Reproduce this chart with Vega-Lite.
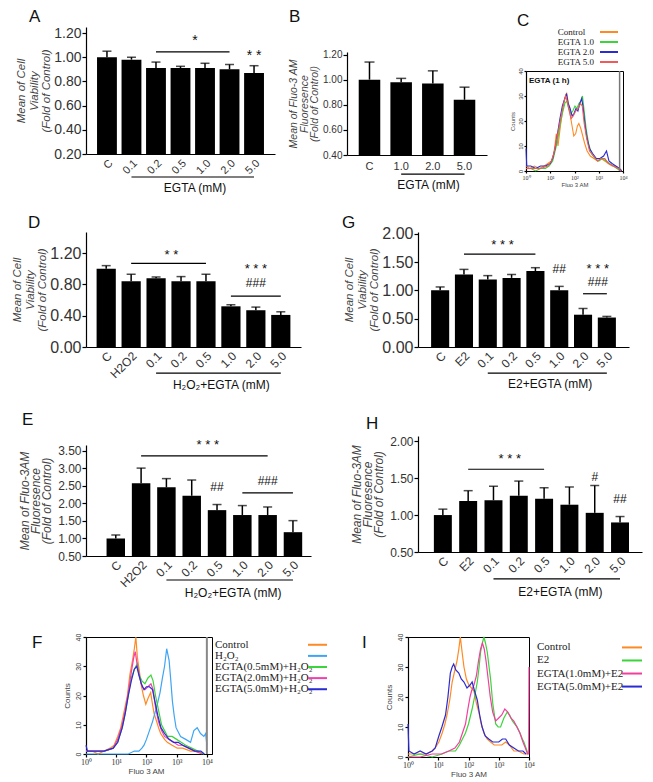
{
 "$schema": "https://vega.github.io/schema/vega-lite/v6.json",
 "padding": {"left": 11, "top": 8, "right": 0, "bottom": 0},
 "background": "white",
 "config": {
  "font": "Liberation Sans",
  "view": {"stroke": null},
  "axis": {"grid": false, "domainColor": "#000", "domainWidth": 1.2, "tickColor": "#000", "tickWidth": 1.2, "labelColor": "#333", "titleColor": "#444", "labelFont": "Liberation Sans", "titleFont": "Liberation Sans", "titleFontWeight": "normal", "labelOverlap": false, "labelFlush": false, "tickCount": 20},
  "title": {"fontSize": 17, "fontWeight": "normal", "anchor": "start", "frame": "group", "color": "#111", "font": "Liberation Sans"},
  "text": {"font": "Liberation Sans", "color": "#111"}
 },
 "datasets": {
  "histC": [
   {"s":"c","x":0,"n":2},{"s":"c","x":0.15,"n":1},{"s":"c","x":0.35,"n":2},{"s":"c","x":0.55,"n":1},{"s":"c","x":0.75,"n":2},{"s":"c","x":0.9,"n":3},{"s":"c","x":1.05,"n":4},{"s":"c","x":1.15,"n":7},{"s":"c","x":1.25,"n":15},{"s":"c","x":1.32,"n":10},{"s":"c","x":1.42,"n":18},{"s":"c","x":1.52,"n":25},{"s":"c","x":1.6,"n":29},{"s":"c","x":1.68,"n":31},{"s":"c","x":1.75,"n":27},{"s":"c","x":1.83,"n":22},{"s":"c","x":1.9,"n":18},{"s":"c","x":1.97,"n":14},{"s":"c","x":2.05,"n":15},{"s":"c","x":2.12,"n":18},{"s":"c","x":2.18,"n":19},{"s":"c","x":2.26,"n":17},{"s":"c","x":2.34,"n":14},{"s":"c","x":2.42,"n":11},{"s":"c","x":2.52,"n":8},{"s":"c","x":2.65,"n":6},{"s":"c","x":2.8,"n":5},{"s":"c","x":2.95,"n":4},{"s":"c","x":3.1,"n":5},{"s":"c","x":3.25,"n":4},{"s":"c","x":3.4,"n":3},{"s":"c","x":3.55,"n":2},{"s":"c","x":3.7,"n":2},{"s":"c","x":3.85,"n":1},{"s":"c","x":3.95,"n":0},
   {"s":"e1","x":0,"n":1},{"s":"e1","x":0.2,"n":1},{"s":"e1","x":0.4,"n":0},{"s":"e1","x":0.6,"n":1},{"s":"e1","x":0.8,"n":1},{"s":"e1","x":0.95,"n":2},{"s":"e1","x":1.1,"n":4},{"s":"e1","x":1.2,"n":8},{"s":"e1","x":1.3,"n":12},{"s":"e1","x":1.4,"n":18},{"s":"e1","x":1.5,"n":23},{"s":"e1","x":1.6,"n":27},{"s":"e1","x":1.68,"n":28},{"s":"e1","x":1.76,"n":25},{"s":"e1","x":1.85,"n":23},{"s":"e1","x":1.93,"n":24},{"s":"e1","x":2.02,"n":26},{"s":"e1","x":2.1,"n":25},{"s":"e1","x":2.18,"n":27},{"s":"e1","x":2.26,"n":28},{"s":"e1","x":2.33,"n":30},{"s":"e1","x":2.4,"n":24},{"s":"e1","x":2.48,"n":17},{"s":"e1","x":2.58,"n":11},{"s":"e1","x":2.7,"n":7},{"s":"e1","x":2.85,"n":5},{"s":"e1","x":3.0,"n":4},{"s":"e1","x":3.15,"n":5},{"s":"e1","x":3.3,"n":4},{"s":"e1","x":3.45,"n":3},{"s":"e1","x":3.6,"n":2},{"s":"e1","x":3.75,"n":1},{"s":"e1","x":3.9,"n":0},
   {"s":"e2","x":0,"n":9},{"s":"e2","x":0.03,"n":2},{"s":"e2","x":0.2,"n":2},{"s":"e2","x":0.4,"n":1},{"s":"e2","x":0.6,"n":2},{"s":"e2","x":0.8,"n":2},{"s":"e2","x":1.0,"n":3},{"s":"e2","x":1.1,"n":5},{"s":"e2","x":1.2,"n":9},{"s":"e2","x":1.3,"n":15},{"s":"e2","x":1.4,"n":21},{"s":"e2","x":1.5,"n":26},{"s":"e2","x":1.6,"n":29},{"s":"e2","x":1.67,"n":31},{"s":"e2","x":1.74,"n":27},{"s":"e2","x":1.82,"n":25},{"s":"e2","x":1.9,"n":22},{"s":"e2","x":1.98,"n":23},{"s":"e2","x":2.06,"n":25},{"s":"e2","x":2.14,"n":24},{"s":"e2","x":2.22,"n":27},{"s":"e2","x":2.3,"n":29},{"s":"e2","x":2.36,"n":25},{"s":"e2","x":2.44,"n":18},{"s":"e2","x":2.52,"n":13},{"s":"e2","x":2.62,"n":9},{"s":"e2","x":2.75,"n":7},{"s":"e2","x":2.9,"n":5},{"s":"e2","x":3.05,"n":5},{"s":"e2","x":3.2,"n":6},{"s":"e2","x":3.32,"n":8},{"s":"e2","x":3.42,"n":4},{"s":"e2","x":3.55,"n":3},{"s":"e2","x":3.7,"n":2},{"s":"e2","x":3.85,"n":1},{"s":"e2","x":3.95,"n":0},
   {"s":"e5","x":0,"n":1},{"s":"e5","x":0.3,"n":1},{"s":"e5","x":0.6,"n":1},{"s":"e5","x":0.9,"n":2},{"s":"e5","x":1.05,"n":4},{"s":"e5","x":1.15,"n":7},{"s":"e5","x":1.25,"n":12},{"s":"e5","x":1.35,"n":17},{"s":"e5","x":1.45,"n":22},{"s":"e5","x":1.55,"n":27},{"s":"e5","x":1.63,"n":30},{"s":"e5","x":1.7,"n":28},{"s":"e5","x":1.78,"n":24},{"s":"e5","x":1.86,"n":21},{"s":"e5","x":1.95,"n":22},{"s":"e5","x":2.05,"n":24},{"s":"e5","x":2.15,"n":25},{"s":"e5","x":2.25,"n":27},{"s":"e5","x":2.32,"n":26},{"s":"e5","x":2.4,"n":19},{"s":"e5","x":2.5,"n":13},{"s":"e5","x":2.62,"n":8},{"s":"e5","x":2.78,"n":6},{"s":"e5","x":2.95,"n":4},{"s":"e5","x":3.1,"n":5},{"s":"e5","x":3.25,"n":5},{"s":"e5","x":3.4,"n":3},{"s":"e5","x":3.6,"n":2},{"s":"e5","x":3.8,"n":1},{"s":"e5","x":3.92,"n":0}
  ],
  "histF": [
   {"s":"c","x":0,"n":1},{"s":"c","x":0.2,"n":1},{"s":"c","x":0.4,"n":0},{"s":"c","x":0.6,"n":1},{"s":"c","x":0.8,"n":2},{"s":"c","x":0.93,"n":3},{"s":"c","x":1.05,"n":6},{"s":"c","x":1.15,"n":9},{"s":"c","x":1.25,"n":14},{"s":"c","x":1.37,"n":20},{"s":"c","x":1.45,"n":27},{"s":"c","x":1.54,"n":32},{"s":"c","x":1.6,"n":36},{"s":"c","x":1.65,"n":40},{"s":"c","x":1.7,"n":33},{"s":"c","x":1.77,"n":28},{"s":"c","x":1.82,"n":24},{"s":"c","x":1.9,"n":20},{"s":"c","x":1.98,"n":17},{"s":"c","x":2.05,"n":19},{"s":"c","x":2.14,"n":21},{"s":"c","x":2.2,"n":17},{"s":"c","x":2.25,"n":14},{"s":"c","x":2.31,"n":12},{"s":"c","x":2.4,"n":9},{"s":"c","x":2.47,"n":7},{"s":"c","x":2.6,"n":5},{"s":"c","x":2.69,"n":4},{"s":"c","x":2.85,"n":3},{"s":"c","x":3.02,"n":2},{"s":"c","x":3.2,"n":2},{"s":"c","x":3.46,"n":1},{"s":"c","x":3.7,"n":1},{"s":"c","x":3.9,"n":0},
   {"s":"h","x":0,"n":0},{"s":"h","x":0.5,"n":0},{"s":"h","x":1.0,"n":0},{"s":"h","x":1.4,"n":0},{"s":"h","x":1.6,"n":1},{"s":"h","x":1.75,"n":1},{"s":"h","x":1.85,"n":2},{"s":"h","x":1.92,"n":3},{"s":"h","x":2.0,"n":5},{"s":"h","x":2.1,"n":8},{"s":"h","x":2.2,"n":11},{"s":"h","x":2.28,"n":14},{"s":"h","x":2.36,"n":17},{"s":"h","x":2.45,"n":21},{"s":"h","x":2.53,"n":26},{"s":"h","x":2.6,"n":30},{"s":"h","x":2.67,"n":36},{"s":"h","x":2.75,"n":32},{"s":"h","x":2.8,"n":26},{"s":"h","x":2.86,"n":18},{"s":"h","x":2.92,"n":13},{"s":"h","x":2.98,"n":9},{"s":"h","x":3.13,"n":6},{"s":"h","x":3.3,"n":5},{"s":"h","x":3.46,"n":4},{"s":"h","x":3.57,"n":8},{"s":"h","x":3.68,"n":9},{"s":"h","x":3.79,"n":7},{"s":"h","x":3.9,"n":6},{"s":"h","x":3.96,"n":7},{"s":"h","x":4.0,"n":3},
   {"s":"e05","x":0,"n":1},{"s":"e05","x":0.3,"n":1},{"s":"e05","x":0.6,"n":1},{"s":"e05","x":0.9,"n":2},{"s":"e05","x":1.05,"n":4},{"s":"e05","x":1.2,"n":9},{"s":"e05","x":1.3,"n":14},{"s":"e05","x":1.4,"n":20},{"s":"e05","x":1.5,"n":26},{"s":"e05","x":1.6,"n":29},{"s":"e05","x":1.7,"n":31},{"s":"e05","x":1.76,"n":27},{"s":"e05","x":1.85,"n":25},{"s":"e05","x":1.95,"n":24},{"s":"e05","x":2.05,"n":26},{"s":"e05","x":2.15,"n":27},{"s":"e05","x":2.22,"n":25},{"s":"e05","x":2.3,"n":20},{"s":"e05","x":2.4,"n":15},{"s":"e05","x":2.5,"n":10},{"s":"e05","x":2.6,"n":8},{"s":"e05","x":2.7,"n":6},{"s":"e05","x":2.85,"n":6},{"s":"e05","x":3.0,"n":5},{"s":"e05","x":3.15,"n":4},{"s":"e05","x":3.3,"n":3},{"s":"e05","x":3.5,"n":2},{"s":"e05","x":3.7,"n":1},{"s":"e05","x":3.9,"n":0},
   {"s":"e20","x":0,"n":1},{"s":"e20","x":0.3,"n":1},{"s":"e20","x":0.6,"n":1},{"s":"e20","x":0.9,"n":2},{"s":"e20","x":1.05,"n":5},{"s":"e20","x":1.2,"n":10},{"s":"e20","x":1.3,"n":15},{"s":"e20","x":1.4,"n":21},{"s":"e20","x":1.5,"n":28},{"s":"e20","x":1.58,"n":33},{"s":"e20","x":1.63,"n":35},{"s":"e20","x":1.7,"n":30},{"s":"e20","x":1.78,"n":26},{"s":"e20","x":1.86,"n":23},{"s":"e20","x":1.95,"n":22},{"s":"e20","x":2.05,"n":23},{"s":"e20","x":2.15,"n":24},{"s":"e20","x":2.22,"n":22},{"s":"e20","x":2.3,"n":16},{"s":"e20","x":2.4,"n":11},{"s":"e20","x":2.5,"n":8},{"s":"e20","x":2.6,"n":6},{"s":"e20","x":2.75,"n":5},{"s":"e20","x":2.9,"n":4},{"s":"e20","x":3.05,"n":3},{"s":"e20","x":3.2,"n":3},{"s":"e20","x":3.4,"n":2},{"s":"e20","x":3.6,"n":1},{"s":"e20","x":3.85,"n":0},
   {"s":"e50","x":0,"n":3},{"s":"e50","x":0.05,"n":1},{"s":"e50","x":0.3,"n":1},{"s":"e50","x":0.6,"n":1},{"s":"e50","x":0.9,"n":2},{"s":"e50","x":1.05,"n":4},{"s":"e50","x":1.2,"n":9},{"s":"e50","x":1.3,"n":14},{"s":"e50","x":1.4,"n":20},{"s":"e50","x":1.5,"n":25},{"s":"e50","x":1.6,"n":29},{"s":"e50","x":1.68,"n":30},{"s":"e50","x":1.75,"n":27},{"s":"e50","x":1.83,"n":24},{"s":"e50","x":1.92,"n":22},{"s":"e50","x":2.0,"n":23},{"s":"e50","x":2.1,"n":23},{"s":"e50","x":2.2,"n":22},{"s":"e50","x":2.28,"n":18},{"s":"e50","x":2.38,"n":13},{"s":"e50","x":2.48,"n":9},{"s":"e50","x":2.6,"n":7},{"s":"e50","x":2.75,"n":5},{"s":"e50","x":2.9,"n":4},{"s":"e50","x":3.05,"n":4},{"s":"e50","x":3.2,"n":3},{"s":"e50","x":3.4,"n":2},{"s":"e50","x":3.6,"n":1},{"s":"e50","x":3.8,"n":1},{"s":"e50","x":3.92,"n":0}
  ],
  "histI": [
   {"s":"c","x":0,"n":1},{"s":"c","x":0.3,"n":1},{"s":"c","x":0.6,"n":1},{"s":"c","x":0.8,"n":2},{"s":"c","x":0.9,"n":3},{"s":"c","x":1.02,"n":5},{"s":"c","x":1.13,"n":8},{"s":"c","x":1.22,"n":11},{"s":"c","x":1.29,"n":14},{"s":"c","x":1.38,"n":19},{"s":"c","x":1.46,"n":25},{"s":"c","x":1.55,"n":29},{"s":"c","x":1.62,"n":32},{"s":"c","x":1.68,"n":36},{"s":"c","x":1.73,"n":40},{"s":"c","x":1.8,"n":34},{"s":"c","x":1.85,"n":30},{"s":"c","x":1.93,"n":26},{"s":"c","x":2.01,"n":24},{"s":"c","x":2.1,"n":23},{"s":"c","x":2.18,"n":22},{"s":"c","x":2.26,"n":18},{"s":"c","x":2.34,"n":15},{"s":"c","x":2.42,"n":11},{"s":"c","x":2.51,"n":8},{"s":"c","x":2.62,"n":6},{"s":"c","x":2.73,"n":5},{"s":"c","x":2.85,"n":4},{"s":"c","x":2.95,"n":4},{"s":"c","x":3.1,"n":4},{"s":"c","x":3.23,"n":5},{"s":"c","x":3.35,"n":4},{"s":"c","x":3.5,"n":2},{"s":"c","x":3.65,"n":2},{"s":"c","x":3.83,"n":1},{"s":"c","x":3.95,"n":1},
   {"s":"e2","x":0,"n":0},{"s":"e2","x":0.4,"n":1},{"s":"e2","x":0.8,"n":0},{"s":"e2","x":1.13,"n":1},{"s":"e2","x":1.35,"n":2},{"s":"e2","x":1.57,"n":2},{"s":"e2","x":1.7,"n":4},{"s":"e2","x":1.8,"n":6},{"s":"e2","x":1.9,"n":8},{"s":"e2","x":2.0,"n":11},{"s":"e2","x":2.12,"n":16},{"s":"e2","x":2.2,"n":20},{"s":"e2","x":2.29,"n":25},{"s":"e2","x":2.35,"n":30},{"s":"e2","x":2.4,"n":35},{"s":"e2","x":2.46,"n":38},{"s":"e2","x":2.51,"n":40},{"s":"e2","x":2.56,"n":38},{"s":"e2","x":2.62,"n":35},{"s":"e2","x":2.68,"n":30},{"s":"e2","x":2.73,"n":26},{"s":"e2","x":2.8,"n":18},{"s":"e2","x":2.9,"n":11},{"s":"e2","x":2.98,"n":10},{"s":"e2","x":3.06,"n":10},{"s":"e2","x":3.17,"n":13},{"s":"e2","x":3.28,"n":15},{"s":"e2","x":3.36,"n":14},{"s":"e2","x":3.45,"n":12},{"s":"e2","x":3.53,"n":11},{"s":"e2","x":3.61,"n":10},{"s":"e2","x":3.7,"n":8},{"s":"e2","x":3.78,"n":6},{"s":"e2","x":3.83,"n":5},{"s":"e2","x":3.9,"n":3},{"s":"e2","x":3.97,"n":1},
   {"s":"g1","x":0,"n":0},{"s":"g1","x":0.4,"n":0},{"s":"g1","x":0.8,"n":1},{"s":"g1","x":1.1,"n":1},{"s":"g1","x":1.35,"n":2},{"s":"g1","x":1.55,"n":3},{"s":"g1","x":1.7,"n":5},{"s":"g1","x":1.8,"n":8},{"s":"g1","x":1.9,"n":11},{"s":"g1","x":1.98,"n":16},{"s":"g1","x":2.05,"n":20},{"s":"g1","x":2.1,"n":22},{"s":"g1","x":2.18,"n":24},{"s":"g1","x":2.26,"n":27},{"s":"g1","x":2.33,"n":32},{"s":"g1","x":2.4,"n":36},{"s":"g1","x":2.46,"n":38},{"s":"g1","x":2.52,"n":36},{"s":"g1","x":2.58,"n":32},{"s":"g1","x":2.65,"n":26},{"s":"g1","x":2.72,"n":20},{"s":"g1","x":2.8,"n":15},{"s":"g1","x":2.9,"n":12},{"s":"g1","x":3.0,"n":13},{"s":"g1","x":3.1,"n":14},{"s":"g1","x":3.2,"n":16},{"s":"g1","x":3.3,"n":15},{"s":"g1","x":3.4,"n":13},{"s":"g1","x":3.5,"n":12},{"s":"g1","x":3.6,"n":10},{"s":"g1","x":3.7,"n":8},{"s":"g1","x":3.8,"n":5},{"s":"g1","x":3.88,"n":3},{"s":"g1","x":3.95,"n":1},{"s":"g1","x":3.99,"n":1},{"s":"g1","x":4.0,"n":30},
   {"s":"g5","x":0,"n":11},{"s":"g5","x":0.03,"n":2},{"s":"g5","x":0.2,"n":1},{"s":"g5","x":0.4,"n":2},{"s":"g5","x":0.6,"n":1},{"s":"g5","x":0.8,"n":2},{"s":"g5","x":0.9,"n":3},{"s":"g5","x":1.02,"n":7},{"s":"g5","x":1.12,"n":10},{"s":"g5","x":1.24,"n":14},{"s":"g5","x":1.32,"n":20},{"s":"g5","x":1.4,"n":28},{"s":"g5","x":1.46,"n":30},{"s":"g5","x":1.51,"n":31},{"s":"g5","x":1.58,"n":29},{"s":"g5","x":1.68,"n":28},{"s":"g5","x":1.76,"n":26},{"s":"g5","x":1.85,"n":25},{"s":"g5","x":1.95,"n":23},{"s":"g5","x":2.05,"n":24},{"s":"g5","x":2.12,"n":25},{"s":"g5","x":2.2,"n":22},{"s":"g5","x":2.29,"n":19},{"s":"g5","x":2.37,"n":14},{"s":"g5","x":2.45,"n":10},{"s":"g5","x":2.55,"n":7},{"s":"g5","x":2.67,"n":6},{"s":"g5","x":2.8,"n":5},{"s":"g5","x":2.9,"n":5},{"s":"g5","x":3.0,"n":5},{"s":"g5","x":3.12,"n":6},{"s":"g5","x":3.23,"n":6},{"s":"g5","x":3.35,"n":4},{"s":"g5","x":3.5,"n":3},{"s":"g5","x":3.65,"n":2},{"s":"g5","x":3.8,"n":2},{"s":"g5","x":3.9,"n":1}
  ]
 },
 "resolve": {"scale": {"color": "independent"}},
 "align": "none",
 "spacing": 19,
 "vconcat": [
  {
   "spacing": 19,
   "align": "none",
   "resolve": {"scale": {"color": "independent"}},
   "vconcat": [
    {
     "spacing": 21,
     "align": "none",
     "resolve": {"scale": {"color": "independent"}},
     "hconcat": [
      {
       "spacing": 13,
       "align": "none",
       "hconcat": [
        {
         "width": 189, "height": 127,
         "title": {"text": "A", "dx": -57, "offset": 0},
         "layer": [
          {
           "data": {"values": [
            {"cat": "C", "mean": 1.0, "hi": 1.05},
            {"cat": "0.1", "mean": 0.98, "hi": 1.0},
            {"cat": "0.2", "mean": 0.91, "hi": 0.96},
            {"cat": "0.5", "mean": 0.91, "hi": 0.925},
            {"cat": "1.0", "mean": 0.91, "hi": 0.95},
            {"cat": "2.0", "mean": 0.9, "hi": 0.94},
            {"cat": "5.0", "mean": 0.87, "hi": 0.93}
           ]},
           "encoding": {
            "x": {"field": "cat", "type": "nominal", "sort": null, "scale": {"domain": ["C","0.1","0.2","0.5","1.0","2.0","5.0"], "paddingInner": 0.19, "paddingOuter": 0.45}, "axis": {"title": null, "labelAngle": -45, "labelFontSize": 11, "ticks": false, "labelPadding": 3, "labelOverlap": false}},
            "y": {"field": "mean", "type": "quantitative", "scale": {"domain": [0.2, 1.25], "nice": false, "zero": false}, "axis": {"values": [0.2,0.4,0.6,0.8,1.0,1.2], "tickCount": 20, "format": ".2f", "labelOverlap": false, "labelFontSize": 14, "tickSize": 4, "labelPadding": 1, "title": ["Mean of Cell","Viability","(Fold of Control)"], "titleFontSize": 11.5, "titleLineHeight": 12.5, "titlePadding": 2, "titleFontStyle": "italic"}}
           },
           "layer": [
            {"mark": {"type": "bar", "color": "#000"}, "encoding": {"y2": {"datum": 0.2}}},
            {"mark": {"type": "rule", "color": "#000", "strokeWidth": 1.5}, "encoding": {"y2": {"field": "hi"}}},
            {"mark": {"type": "tick", "orient": "horizontal", "color": "#000", "size": 9, "thickness": 1.5}, "encoding": {"y": {"field": "hi", "type": "quantitative"}}}
           ]
          },
          {"data": {"values": [{}]}, "mark": {"type": "rule", "color": "#000", "strokeWidth": 1.2}, "encoding": {"x": {"datum": "0.2"}, "x2": {"datum": "2.0"}, "y": {"datum": 1.045}}},
          {"data": {"values": [{}]}, "mark": {"type": "text", "fontSize": 14}, "encoding": {"x": {"datum": "1.0", "bandPosition": 0}, "y": {"datum": 1.135}, "text": {"value": "*"}}},
          {"data": {"values": [{}]}, "mark": {"type": "text", "fontSize": 14}, "encoding": {"x": {"datum": "5.0"}, "y": {"datum": 1.01}, "text": {"value": "* *"}}},
          {"data": {"values": [{}]}, "mark": {"type": "rule", "color": "#000", "strokeWidth": 1.2}, "encoding": {"x": {"datum": "0.1"}, "x2": {"datum": "5.0"}, "y": {"datum": 0.01}}},
          {"data": {"values": [{}]}, "mark": {"type": "text", "fontSize": 12}, "encoding": {"x": {"datum": "1.0", "bandPosition": 0}, "y": {"datum": -0.08}, "text": {"value": "EGTA (mM)"}}}
         ]
        },
        {
         "spacing": 2,
         "align": "none",
         "vconcat": [
          {"width": 1, "height": 20, "title": {"text": "B", "dx": -58, "offset": 1}, "data": {"values": []}, "mark": "point"},
          {
           "width": 140, "height": 103,
           "layer": [
            {
             "data": {"values": [
              {"cat": "C", "mean": 1.0, "hi": 1.14},
              {"cat": "1.0", "mean": 0.98, "hi": 1.01},
              {"cat": "2.0", "mean": 0.97, "hi": 1.07},
              {"cat": "5.0", "mean": 0.84, "hi": 0.94}
             ]},
             "encoding": {
              "x": {"field": "cat", "type": "nominal", "sort": null, "scale": {"domain": ["C","1.0","2.0","5.0"], "paddingInner": 0.32, "paddingOuter": 0.37}, "axis": {"title": null, "labelAngle": 0, "labelFontSize": 11, "ticks": false, "labelPadding": 5, "labelOverlap": false}},
              "y": {"field": "mean", "type": "quantitative", "scale": {"domain": [0.4, 1.22], "nice": false, "zero": false}, "axis": {"values": [0.4,0.6,0.8,1.0,1.2], "tickCount": 20, "format": ".2f", "labelOverlap": false, "labelFontSize": 10, "tickSize": 4, "labelPadding": 1, "title": ["Mean of Fluo-3 AM","Fluoresence","(Fold of Control)"], "titleFontSize": 10.5, "titleLineHeight": 10.5, "titlePadding": 3, "titleFontStyle": "italic"}}
             },
             "layer": [
              {"mark": {"type": "bar", "color": "#000"}, "encoding": {"y2": {"datum": 0.4}}},
              {"mark": {"type": "rule", "color": "#000", "strokeWidth": 1.5}, "encoding": {"y2": {"field": "hi"}}},
              {"mark": {"type": "tick", "orient": "horizontal", "color": "#000", "size": 10, "thickness": 1.5}, "encoding": {"y": {"field": "hi", "type": "quantitative"}}}
             ]
            },
            {"data": {"values": [{}]}, "mark": {"type": "rule", "color": "#000", "strokeWidth": 1.2}, "encoding": {"x": {"datum": "1.0"}, "x2": {"datum": "5.0"}, "y": {"datum": 0.248}}},
            {"data": {"values": [{}]}, "mark": {"type": "text", "fontSize": 12}, "encoding": {"x": {"datum": "2.0", "bandPosition": 0.3}, "y": {"datum": 0.16}, "text": {"value": "EGTA (mM)"}}}
           ]
          }
         ]
        }
       ]
      },
      {
       "spacing": 0,
       "align": "none",
       "vconcat": [
        {
         "width": 92, "height": 40,
         "title": {"text": "C", "dx": -9, "offset": 0, "dy": 3},
         "data": {"values": [{"s": "c", "lab": "Control"}, {"s": "e1", "lab": "EGTA 1.0"}, {"s": "e2", "lab": "EGTA 2.0"}, {"s": "e5", "lab": "EGTA 5.0"}]},
         "encoding": {"y": {"field": "lab", "type": "nominal", "sort": null, "scale": {"type": "band", "domain": ["Control","EGTA 1.0","EGTA 2.0","EGTA 5.0"], "paddingInner": 0, "paddingOuter": 0}, "axis": null}},
         "layer": [
          {"mark": {"type": "text", "align": "left", "font": "Liberation Serif", "fontSize": 9, "color": "#222"}, "encoding": {"x": {"datum": 31.7, "type": "quantitative", "scale": {"domain": [0, 92], "nice": false, "zero": false}, "axis": null}, "text": {"field": "lab"}}},
          {"mark": {"type": "rule", "strokeWidth": 2}, "encoding": {"x": {"datum": 74}, "x2": {"datum": 92}, "color": {"field": "s", "type": "nominal", "scale": {"domain": ["c","e1","e2","e5"], "range": ["#ff8a24","#3bd43b","#2b2bd4","#f05a5a"]}, "legend": null}}}
         ]
        },
        {
         "width": 97, "height": 100,
         "view": {"stroke": "#000", "strokeWidth": 1},
         "layer": [
          {
           "data": {"name": "histC"},
           "mark": {"type": "line", "strokeWidth": 1.1},
           "encoding": {
            "x": {"field": "x", "type": "quantitative", "scale": {"domain": [0, 4], "nice": false}, "axis": {"values": [0,1,2,3,4], "tickCount": 20, "labelExpr": "['10⁰','10¹','10²','10³','10⁴'][datum.value]", "labelFont": "Liberation Serif", "labelFontSize": 6, "tickSize": 2, "labelPadding": 1, "title": "Fluo 3 AM", "titleFontSize": 6, "titlePadding": 1, "titleFontStyle": "normal"}},
            "y": {"field": "n", "type": "quantitative", "scale": {"domain": [0, 40], "nice": false}, "axis": {"values": [0,10,20,30,40], "tickCount": 20, "labelAngle": -90, "labelFontSize": 6, "tickSize": 2, "labelPadding": 1, "title": "Counts", "titleFontSize": 6, "titlePadding": 2, "titleFontStyle": "normal"}},
            "color": {"field": "s", "type": "nominal", "scale": {"domain": ["c","e1","e2","e5"], "range": ["#ff8a24","#3bd43b","#2b2bd4","#f05a5a"]}, "legend": null}
           }
          },
          {"data": {"values": [{}]}, "mark": {"type": "rule", "color": "#777", "strokeWidth": 1.5}, "encoding": {"x": {"datum": 3.86}}},
          {"data": {"values": [{}]}, "mark": {"type": "text", "fontSize": 8, "fontWeight": "bold", "align": "left"}, "encoding": {"x": {"datum": 0.12}, "y": {"datum": 36}, "text": {"value": "EGTA (1 h)"}}}
         ]
        }
       ]
      }
     ]
    },
    {
     "spacing": 41,
     "align": "none",
     "hconcat": [
      {
       "width": 215, "height": 115,
       "title": {"text": "D", "dx": -58, "offset": 0},
       "layer": [
        {
         "data": {"values": [
          {"cat": "C", "mean": 1.0, "hi": 1.04},
          {"cat": "H2O2", "mean": 0.84, "hi": 0.93},
          {"cat": "0.1", "mean": 0.88, "hi": 0.895},
          {"cat": "0.2", "mean": 0.84, "hi": 0.9},
          {"cat": "0.5", "mean": 0.84, "hi": 0.93},
          {"cat": "1.0", "mean": 0.52, "hi": 0.54},
          {"cat": "2.0", "mean": 0.47, "hi": 0.51},
          {"cat": "5.0", "mean": 0.41, "hi": 0.45}
         ]},
         "encoding": {
          "x": {"field": "cat", "type": "nominal", "sort": null, "scale": {"domain": ["C","H2O2","0.1","0.2","0.5","1.0","2.0","5.0"], "paddingInner": 0.23, "paddingOuter": 0.425}, "axis": {"title": null, "labelAngle": -45, "labelFontSize": 12, "ticks": false, "labelPadding": 3, "labelOverlap": false}},
          "y": {"field": "mean", "type": "quantitative", "scale": {"domain": [0, 1.47], "nice": false}, "axis": {"values": [0,0.4,0.8,1.2], "tickCount": 20, "format": ".2f", "labelOverlap": false, "labelFontSize": 16, "tickSize": 4, "labelPadding": 1, "title": ["Mean of Cell","Viability","(Fold of Control)"], "titleFontSize": 11.5, "titleLineHeight": 12.5, "titlePadding": 2, "titleFontStyle": "italic"}}
         },
         "layer": [
          {"mark": {"type": "bar", "color": "#000"}, "encoding": {"y2": {"datum": 0}}},
          {"mark": {"type": "rule", "color": "#000", "strokeWidth": 1.5}, "encoding": {"y2": {"field": "hi"}}},
          {"mark": {"type": "tick", "orient": "horizontal", "color": "#000", "size": 9, "thickness": 1.5}, "encoding": {"y": {"field": "hi", "type": "quantitative"}}}
         ]
        },
        {"data": {"values": [{}]}, "mark": {"type": "rule", "color": "#000", "strokeWidth": 1.2}, "encoding": {"x": {"datum": "H2O2"}, "x2": {"datum": "0.5"}, "y": {"datum": 1.07}}},
        {"data": {"values": [{}]}, "mark": {"type": "text", "fontSize": 13}, "encoding": {"x": {"datum": "0.2", "bandPosition": 0}, "y": {"datum": 1.18}, "text": {"value": "* *"}}},
        {"data": {"values": [{}]}, "mark": {"type": "rule", "color": "#000", "strokeWidth": 1.2}, "encoding": {"x": {"datum": "1.0"}, "x2": {"datum": "5.0"}, "y": {"datum": 0.65}}},
        {"data": {"values": [{}]}, "mark": {"type": "text", "fontSize": 13}, "encoding": {"x": {"datum": "2.0"}, "y": {"datum": 1.0}, "text": {"value": "* * *"}}},
        {"data": {"values": [{}]}, "mark": {"type": "text", "fontSize": 12}, "encoding": {"x": {"datum": "2.0"}, "y": {"datum": 0.82}, "text": {"value": "###"}}},
        {"data": {"values": [{}]}, "mark": {"type": "rule", "color": "#000", "strokeWidth": 1.2}, "encoding": {"x": {"datum": "0.1"}, "x2": {"datum": "5.0"}, "y": {"datum": -0.334}}},
        {"data": {"values": [{}]}, "mark": {"type": "text", "fontSize": 12}, "encoding": {"x": {"datum": "1.0", "bandPosition": 0}, "y": {"datum": -0.49}, "text": {"value": "H₂O₂+EGTA (mM)"}}}
       ]
      },
      {
       "width": 211, "height": 115,
       "title": {"text": "G", "dx": -76, "offset": 0, "dy": 6},
       "layer": [
        {
         "data": {"values": [
          {"cat": "C", "mean": 1.0, "hi": 1.06},
          {"cat": "E2", "mean": 1.28, "hi": 1.37},
          {"cat": "0.1", "mean": 1.19, "hi": 1.26},
          {"cat": "0.2", "mean": 1.22, "hi": 1.28},
          {"cat": "0.5", "mean": 1.34, "hi": 1.4},
          {"cat": "1.0", "mean": 1.0, "hi": 1.07},
          {"cat": "2.0", "mean": 0.57, "hi": 0.68},
          {"cat": "5.0", "mean": 0.52, "hi": 0.54}
         ]},
         "encoding": {
          "x": {"field": "cat", "type": "nominal", "sort": null, "scale": {"domain": ["C","E2","0.1","0.2","0.5","1.0","2.0","5.0"], "paddingInner": 0.24, "paddingOuter": 0.55}, "axis": {"title": null, "labelAngle": -45, "labelFontSize": 12, "ticks": false, "labelPadding": 3, "labelOverlap": false}},
          "y": {"field": "mean", "type": "quantitative", "scale": {"domain": [0, 2.03], "nice": false}, "axis": {"values": [0,0.5,1,1.5,2], "tickCount": 20, "format": ".2f", "labelOverlap": false, "labelFontSize": 16, "tickSize": 4, "labelPadding": 1, "title": ["Mean of Cell","Viability","(Fold of Control)"], "titleFontSize": 11.5, "titleLineHeight": 12.5, "titlePadding": 2, "titleFontStyle": "italic"}}
         },
         "layer": [
          {"mark": {"type": "bar", "color": "#000"}, "encoding": {"y2": {"datum": 0}}},
          {"mark": {"type": "rule", "color": "#000", "strokeWidth": 1.5}, "encoding": {"y2": {"field": "hi"}}},
          {"mark": {"type": "tick", "orient": "horizontal", "color": "#000", "size": 9, "thickness": 1.5}, "encoding": {"y": {"field": "hi", "type": "quantitative"}}}
         ]
        },
        {"data": {"values": [{}]}, "mark": {"type": "rule", "color": "#000", "strokeWidth": 1.2}, "encoding": {"x": {"datum": "E2"}, "x2": {"datum": "0.5"}, "y": {"datum": 1.64}}},
        {"data": {"values": [{}]}, "mark": {"type": "text", "fontSize": 13}, "encoding": {"x": {"datum": "0.2", "bandPosition": 0}, "y": {"datum": 1.8}, "text": {"value": "* * *"}}},
        {"data": {"values": [{}]}, "mark": {"type": "text", "fontSize": 12}, "encoding": {"x": {"datum": "1.0"}, "y": {"datum": 1.38}, "text": {"value": "##"}}},
        {"data": {"values": [{}]}, "mark": {"type": "text", "fontSize": 13}, "encoding": {"x": {"datum": "5.0", "bandPosition": 0}, "y": {"datum": 1.38}, "text": {"value": "* * *"}}},
        {"data": {"values": [{}]}, "mark": {"type": "text", "fontSize": 12}, "encoding": {"x": {"datum": "5.0", "bandPosition": 0}, "y": {"datum": 1.15}, "text": {"value": "###"}}},
        {"data": {"values": [{}]}, "mark": {"type": "rule", "color": "#000", "strokeWidth": 1.2}, "encoding": {"x": {"datum": "2.0"}, "x2": {"datum": "5.0"}, "y": {"datum": 0.94}}},
        {"data": {"values": [{}]}, "mark": {"type": "rule", "color": "#000", "strokeWidth": 1.2}, "encoding": {"x": {"datum": "0.1"}, "x2": {"datum": "5.0"}, "y": {"datum": -0.46}}},
        {"data": {"values": [{}]}, "mark": {"type": "text", "fontSize": 12}, "encoding": {"x": {"datum": "1.0", "bandPosition": 0}, "y": {"datum": -0.655}, "text": {"value": "E2+EGTA (mM)"}}}
       ]
      }
     ]
    }
   ]
  },
  {
   "spacing": 32,
   "align": "none",
   "resolve": {"scale": {"color": "independent"}},
   "vconcat": [
    {
     "spacing": 39,
     "align": "none",
     "hconcat": [
      {
       "spacing": 2,
       "align": "none",
       "vconcat": [
        {"width": 1, "height": 1, "title": {"text": "E", "dx": -64, "offset": 7}, "data": {"values": []}, "mark": "point"},
        {
         "width": 225, "height": 111,
         "layer": [
          {
           "data": {"values": [
            {"cat": "C", "mean": 1.0, "hi": 1.1},
            {"cat": "H2O2", "mean": 2.58, "hi": 3.01},
            {"cat": "0.1", "mean": 2.46, "hi": 2.71},
            {"cat": "0.2", "mean": 2.22, "hi": 2.67},
            {"cat": "0.5", "mean": 1.81, "hi": 1.97},
            {"cat": "1.0", "mean": 1.67, "hi": 1.94},
            {"cat": "2.0", "mean": 1.67, "hi": 1.9},
            {"cat": "5.0", "mean": 1.18, "hi": 1.51}
           ]},
           "encoding": {
            "x": {"field": "cat", "type": "nominal", "sort": null, "scale": {"domain": ["C","H2O2","0.1","0.2","0.5","1.0","2.0","5.0"], "paddingInner": 0.27, "paddingOuter": 0.58, "align": 0.7}, "axis": {"title": null, "labelAngle": -45, "labelFontSize": 12, "ticks": false, "labelPadding": 3, "labelOverlap": false}},
            "y": {"field": "mean", "type": "quantitative", "scale": {"domain": [0.5, 3.67], "nice": false, "zero": false}, "axis": {"values": [0.5,1,1.5,2,2.5,3,3.5], "tickCount": 20, "format": ".2f", "labelOverlap": false, "labelFontSize": 12, "tickSize": 4, "labelPadding": 1, "title": ["Mean of Fluo-3AM","Fluoresence","(Fold of Control)"], "titleFontSize": 12, "titleLineHeight": 11, "titlePadding": 4, "titleFontStyle": "italic"}}
           },
           "layer": [
            {"mark": {"type": "bar", "color": "#000"}, "encoding": {"y2": {"datum": 0.5}}},
            {"mark": {"type": "rule", "color": "#000", "strokeWidth": 1.5}, "encoding": {"y2": {"field": "hi"}}},
            {"mark": {"type": "tick", "orient": "horizontal", "color": "#000", "size": 9, "thickness": 1.5}, "encoding": {"y": {"field": "hi", "type": "quantitative"}}}
           ]
          },
          {"data": {"values": [{}]}, "mark": {"type": "text", "fontSize": 13}, "encoding": {"x": {"datum": "0.5", "bandPosition": 0}, "y": {"datum": 3.67}, "text": {"value": "* * *"}}},
          {"data": {"values": [{}]}, "mark": {"type": "rule", "color": "#000", "strokeWidth": 1.2}, "encoding": {"x": {"datum": "H2O2"}, "x2": {"datum": "2.0"}, "y": {"datum": 3.36}}},
          {"data": {"values": [{}]}, "mark": {"type": "text", "fontSize": 12}, "encoding": {"x": {"datum": "0.5"}, "y": {"datum": 2.47}, "text": {"value": "##"}}},
          {"data": {"values": [{}]}, "mark": {"type": "text", "fontSize": 12}, "encoding": {"x": {"datum": "2.0"}, "y": {"datum": 2.64}, "text": {"value": "###"}}},
          {"data": {"values": [{}]}, "mark": {"type": "rule", "color": "#000", "strokeWidth": 1.2}, "encoding": {"x": {"datum": "1.0"}, "x2": {"datum": "5.0"}, "y": {"datum": 2.3}}},
          {"data": {"values": [{}]}, "mark": {"type": "rule", "color": "#000", "strokeWidth": 1.2}, "encoding": {"x": {"datum": "0.1"}, "x2": {"datum": "5.0"}, "y": {"datum": -0.186}}},
          {"data": {"values": [{}]}, "mark": {"type": "text", "fontSize": 12}, "encoding": {"x": {"datum": "1.0", "bandPosition": 0}, "y": {"datum": -0.557}, "text": {"value": "H₂O₂+EGTA (mM)"}}}
         ]
        }
       ]
      },
      {
       "width": 224, "height": 116,
       "title": {"text": "H", "dx": -52, "offset": 2},
       "layer": [
        {
         "data": {"values": [
          {"cat": "C", "mean": 1.0, "hi": 1.08},
          {"cat": "E2", "mean": 1.19, "hi": 1.33},
          {"cat": "0.1", "mean": 1.2, "hi": 1.39},
          {"cat": "0.2", "mean": 1.26, "hi": 1.46},
          {"cat": "0.5", "mean": 1.22, "hi": 1.37},
          {"cat": "1.0", "mean": 1.14, "hi": 1.38},
          {"cat": "2.0", "mean": 1.03, "hi": 1.4},
          {"cat": "5.0", "mean": 0.9, "hi": 0.98}
         ]},
         "encoding": {
          "x": {"field": "cat", "type": "nominal", "sort": null, "scale": {"domain": ["C","E2","0.1","0.2","0.5","1.0","2.0","5.0"], "paddingInner": 0.29, "paddingOuter": 0.57, "align": 0.55}, "axis": {"title": null, "labelAngle": -45, "labelFontSize": 12, "ticks": false, "labelPadding": 3, "labelOverlap": false}},
          "y": {"field": "mean", "type": "quantitative", "scale": {"domain": [0.5, 2.07], "nice": false, "zero": false}, "axis": {"values": [0.5,1,1.5,2], "tickCount": 20, "format": ".2f", "labelOverlap": false, "labelFontSize": 12, "tickSize": 4, "labelPadding": 1, "title": ["Mean of Fluo-3AM","Fluoresence","(Fold of Control)"], "titleFontSize": 12, "titleLineHeight": 11, "titlePadding": 4, "titleFontStyle": "italic"}}
         },
         "layer": [
          {"mark": {"type": "bar", "color": "#000"}, "encoding": {"y2": {"datum": 0.5}}},
          {"mark": {"type": "rule", "color": "#000", "strokeWidth": 1.5}, "encoding": {"y2": {"field": "hi"}}},
          {"mark": {"type": "tick", "orient": "horizontal", "color": "#000", "size": 9, "thickness": 1.5}, "encoding": {"y": {"field": "hi", "type": "quantitative"}}}
         ]
        },
        {"data": {"values": [{}]}, "mark": {"type": "text", "fontSize": 13}, "encoding": {"x": {"datum": "0.2", "bandPosition": 0}, "y": {"datum": 1.76}, "text": {"value": "* * *"}}},
        {"data": {"values": [{}]}, "mark": {"type": "rule", "color": "#000", "strokeWidth": 1.2}, "encoding": {"x": {"datum": "E2"}, "x2": {"datum": "0.5"}, "y": {"datum": 1.62}}},
        {"data": {"values": [{}]}, "mark": {"type": "text", "fontSize": 12}, "encoding": {"x": {"datum": "2.0"}, "y": {"datum": 1.51}, "text": {"value": "#"}}},
        {"data": {"values": [{}]}, "mark": {"type": "text", "fontSize": 12}, "encoding": {"x": {"datum": "5.0"}, "y": {"datum": 1.22}, "text": {"value": "##"}}},
        {"data": {"values": [{}]}, "mark": {"type": "rule", "color": "#000", "strokeWidth": 1.2}, "encoding": {"x": {"datum": "0.1"}, "x2": {"datum": "5.0"}, "y": {"datum": 0.135}}},
        {"data": {"values": [{}]}, "mark": {"type": "text", "fontSize": 12}, "encoding": {"x": {"datum": "1.0", "bandPosition": 0}, "y": {"datum": -0.04}, "text": {"value": "E2+EGTA (mM)"}}}
       ]
      }
     ]
    },
    {
     "spacing": 33,
     "align": "none",
     "resolve": {"scale": {"color": "independent"}},
     "hconcat": [
      {
       "spacing": 2,
       "align": "none",
       "hconcat": [
        {
         "width": 126, "height": 117,
         "title": {"text": "F", "dx": -54, "offset": 0, "dy": 19},
         "view": {"stroke": "#000", "strokeWidth": 1},
         "layer": [
          {
           "data": {"name": "histF"},
           "mark": {"type": "line", "strokeWidth": 1.2},
           "encoding": {
            "x": {"field": "x", "type": "quantitative", "scale": {"domain": [0, 4.17], "nice": false}, "axis": {"values": [0,1,2,3,4], "tickCount": 20, "labelExpr": "['10⁰','10¹','10²','10³','10⁴'][datum.value]", "labelFont": "Liberation Serif", "labelFontSize": 8, "tickSize": 3, "labelPadding": 1, "title": "Fluo 3 AM", "titleFontSize": 8, "titlePadding": 1, "titleFontStyle": "normal", "titleX": 60}},
            "y": {"field": "n", "type": "quantitative", "scale": {"domain": [0, 40], "nice": false}, "axis": {"values": [0,10,20,30,40], "tickCount": 20, "labelAngle": -90, "labelFontSize": 7, "tickSize": 3, "labelPadding": 2, "title": "Counts", "titleFontSize": 8, "titlePadding": 3, "titleFontStyle": "normal"}},
            "color": {"field": "s", "type": "nominal", "scale": {"domain": ["c","h","e05","e20","e50"], "range": ["#ff8a24","#3da5f4","#3bd43b","#f23fb0","#2b2bd4"]}, "legend": null}
           }
          },
          {"data": {"values": [{}]}, "mark": {"type": "rule", "color": "#888", "strokeWidth": 2}, "encoding": {"x": {"datum": 4.0}}}
         ]
        },
        {
         "width": 112, "height": 60,
         "data": {"values": [{"s": "c", "lab": "Control"}, {"s": "h", "lab": "H₂O₂"}, {"s": "e05", "lab": "EGTA(0.5mM)+H₂O₂"}, {"s": "e20", "lab": "EGTA(2.0mM)+H₂O₂"}, {"s": "e50", "lab": "EGTA(5.0mM)+H₂O₂"}]},
         "encoding": {"y": {"field": "lab", "type": "nominal", "sort": null, "scale": {"type": "band", "domain": ["Control","H₂O₂","EGTA(0.5mM)+H₂O₂","EGTA(2.0mM)+H₂O₂","EGTA(5.0mM)+H₂O₂"], "paddingInner": 0, "paddingOuter": 0.2}, "axis": null}},
         "layer": [
          {"mark": {"type": "text", "align": "left", "font": "Liberation Serif", "fontSize": 11, "color": "#222"}, "encoding": {"x": {"datum": 0, "type": "quantitative", "scale": {"domain": [0, 112], "nice": false, "zero": false}, "axis": null}, "text": {"field": "lab"}}},
          {"mark": {"type": "rule", "strokeWidth": 2}, "encoding": {"x": {"datum": 93}, "x2": {"datum": 112}, "color": {"field": "s", "type": "nominal", "scale": {"domain": ["c","h","e05","e20","e50"], "range": ["#ff8a24","#3da5f4","#3bd43b","#f23fb0","#2b2bd4"]}, "legend": null}}}
         ]
        }
       ]
      },
      {
       "spacing": 2,
       "align": "none",
       "hconcat": [
        {
         "width": 121, "height": 120,
         "title": {"text": "I", "dx": -46, "offset": 0, "dy": 19},
         "view": {"stroke": "#000", "strokeWidth": 1},
         "layer": [
          {
           "data": {"name": "histI"},
           "mark": {"type": "line", "strokeWidth": 1.2},
           "encoding": {
            "x": {"field": "x", "type": "quantitative", "scale": {"domain": [0, 4], "nice": false}, "axis": {"values": [0,1,2,3,4], "tickCount": 20, "labelExpr": "['10⁰','10¹','10²','10³','10⁴'][datum.value]", "labelFont": "Liberation Serif", "labelFontSize": 8, "tickSize": 3, "labelPadding": 1, "title": "Fluo 3 AM", "titleFontSize": 8, "titlePadding": 1, "titleFontStyle": "normal"}},
            "y": {"field": "n", "type": "quantitative", "scale": {"domain": [0, 40], "nice": false}, "axis": {"values": [0,10,20,30,40], "tickCount": 20, "labelAngle": -90, "labelFontSize": 7, "tickSize": 3, "labelPadding": 2, "title": "Counts", "titleFontSize": 8, "titlePadding": 3, "titleFontStyle": "normal"}},
            "color": {"field": "s", "type": "nominal", "scale": {"domain": ["c","e2","g1","g5"], "range": ["#ff8a24","#3bd43b","#f23f9e","#2b2bd4"]}, "legend": null}
           }
          }
         ]
        },
        {
         "width": 105, "height": 60,
         "data": {"values": [{"s": "c", "lab": "Control"}, {"s": "e2", "lab": "E2"}, {"s": "g1", "lab": "EGTA(1.0mM)+E2"}, {"s": "g5", "lab": "EGTA(5.0mM)+E2"}]},
         "encoding": {"y": {"field": "lab", "type": "nominal", "sort": null, "scale": {"type": "band", "domain": ["Control","E2","EGTA(1.0mM)+E2","EGTA(5.0mM)+E2"], "paddingInner": 0, "paddingOuter": 0.3}, "axis": null}},
         "layer": [
          {"mark": {"type": "text", "align": "left", "font": "Liberation Serif", "fontSize": 11, "color": "#222"}, "encoding": {"x": {"datum": 0, "type": "quantitative", "scale": {"domain": [0, 105], "nice": false, "zero": false}, "axis": null}, "text": {"field": "lab"}}},
          {"mark": {"type": "rule", "strokeWidth": 2}, "encoding": {"x": {"datum": 85}, "x2": {"datum": 105}, "color": {"field": "s", "type": "nominal", "scale": {"domain": ["c","e2","g1","g5"], "range": ["#ff8a24","#3bd43b","#f23f9e","#2b2bd4"]}, "legend": null}}}
         ]
        }
       ]
      }
     ]
    }
   ]
  }
 ]
}
